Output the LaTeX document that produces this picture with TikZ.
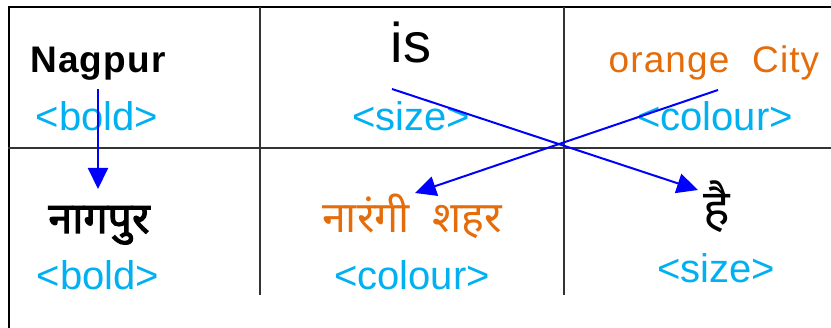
\documentclass[tikz,border=0pt]{standalone}
\usepackage{fontspec}
\setmainfont{Liberation Sans}
\newfontfamily\deva[Script=Devanagari]{Noto Sans}
\newfontfamily\devab[Script=Devanagari,FakeBold=2.5]{Noto Sans}
\usetikzlibrary{arrows.meta}
\definecolor{cyantag}{HTML}{00B0F0}
\definecolor{orangetxt}{HTML}{E46C0A}
\definecolor{arrowblue}{HTML}{0000FF}
\definecolor{gridgray}{HTML}{333333}
\tikzset{
  tag/.style={anchor=base, inner sep=0pt, text=cyantag, font=\fontsize{40}{40}\selectfont},
  word/.style={anchor=base, inner sep=0pt},
  link/.style={draw=arrowblue, line width=2pt, -{Triangle[width=20pt,length=21pt]}},
  frame/.style={draw=black, line width=2.8pt},
  grid/.style={draw=gridgray, line width=1.4pt},
}
\begin{document}
\begin{tikzpicture}[x=1pt,y=-1pt]
\useasboundingbox (0,0) rectangle (831,328);
% frame and grid
\draw[frame] (8,7) -- (831,7);
\draw[frame] (9,6) -- (9,328);
\draw[grid] (8,148) -- (831,148);
\draw[grid] (260,7) -- (260,295);
\draw[grid] (564,7) -- (564,295);
% top row
\node[word, font=\bfseries\fontsize{37}{37}\selectfont\addfontfeatures{LetterSpace=3}] (nagpur) at (98,73) {Nagpur};
\node[tag] (boldA) at (97,131) {<bold>};
\node[word, font=\fontsize{56}{56}\selectfont] (is) at (411,63) {is};
\node[tag] (sizeA) at (411,131) {<size>};
\node[word, text=orangetxt, font=\fontsize{37}{37}\selectfont\addfontfeatures{LetterSpace=3}] (orange) at (714,73) {orange\ \ City};
\node[tag] (colourA) at (715,131) {<colour>};
% bottom row
\node[word, font=\devab\fontsize{43}{43}\selectfont] (nagpurH) at (99,233) {नागपुर};
\node[tag] (boldB) at (98,290) {<bold>};
\node[word, text=orangetxt, font=\deva\fontsize{43}{43}\selectfont] (orangeH) at (412,233) {नारंगी\ \ शहर};
\node[tag] (colourB) at (412,290) {<colour>};
\node[word, font=\deva\fontsize{50}{50}\selectfont] (hai) at (717,226) {है};
\node[tag] (sizeB) at (716,283) {<size>};
% arrows
\coordinate (a1s) at (98,89);
\coordinate (a1e) at (98,189);
\coordinate (a2s) at (392,89);
\coordinate (a2e) at (698,190);
\coordinate (a3s) at (718,90);
\coordinate (a3e) at (415,193);
\draw[link] (a1s) -- (a1e);
\draw[link] (a2s) -- (a2e);
\draw[link] (a3s) -- (a3e);
\end{tikzpicture}
\end{document}
